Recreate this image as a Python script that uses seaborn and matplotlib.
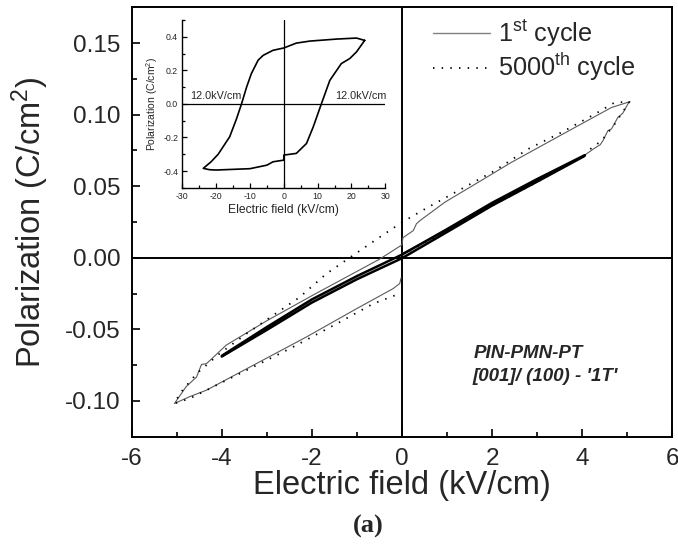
import numpy as np
import pandas as pd
import matplotlib
matplotlib.use("Agg")
import matplotlib.pyplot as plt
from matplotlib.ticker import MultipleLocator, FormatStrFormatter
from matplotlib.lines import Line2D
import seaborn as sns

# ---------------- data ----------------
# 1st cycle, outer loop (E in kV/cm, P in C/cm^2)
cyc1_E = [0.0, 1.0, 2.0, 3.0, 4.0, 4.28, 4.40, 4.46, 4.57, 4.65, 4.79, 4.90, 5.02, 5.05,
          4.65, 3.91, 3.17, 2.43, 1.69, 0.95, 0.40, 0.32, 0.25, 0.02, 0.0,
          -0.5, -1.0, -2.0, -3.0, -3.9, -4.34, -4.45, -4.56, -4.79, -5.05,
          -4.71, -4.34, -3.23, -2.12, -1.01, -0.20, -0.05, -0.02]
cyc1_P = [0.003, 0.0195, 0.037, 0.0535, 0.0705, 0.0767, 0.0790, 0.0818, 0.0888, 0.0900, 0.0980, 0.1010, 0.1078, 0.1090,
          0.1050, 0.0923, 0.0795, 0.0667, 0.0527, 0.0388, 0.0260, 0.0237, 0.0190, 0.0140, 0.0090,
          -0.0010, -0.0095, -0.0265, -0.0440, -0.0610, -0.0740, -0.0745, -0.0833, -0.0900, -0.1018,
          -0.0970, -0.0925, -0.0739, -0.0553, -0.0356, -0.0216, -0.0180, -0.0140]

# 5000th cycle, outer loop
cyc5000_E = [0.0, 1.0, 2.0, 3.0, 4.06, 4.13, 4.43, 4.72, 5.05,
             4.72, 4.28, 3.54, 2.80, 2.06, 1.32, 0.577, 0.0, -0.495, -1.09, -1.68, -2.27,
             -2.86, -3.45, -4.05, -4.56, -4.93, -5.05,
             -4.71, -3.60, -2.49, -1.38, -0.64, -0.05]
cyc5000_P = [0.002, 0.019, 0.0365, 0.053, 0.0715, 0.0748, 0.0818, 0.0934, 0.1090,
             0.1085, 0.1004, 0.0876, 0.0760, 0.0609, 0.0481, 0.0353, 0.0248, 0.0144, 0.0016, -0.0112, -0.0275,
             -0.0402, -0.0530, -0.0670, -0.0810, -0.0948, -0.1018,
             -0.0983, -0.0809, -0.0635, -0.0449, -0.0321, -0.0250]

# thick narrow loop (+/-4 kV/cm)
band_up_E = [4.05, 3.0, 2.0, 1.0, 0.0, -1.0, -2.0, -3.0, -4.0]
band_up_P = [0.0716, 0.0550, 0.0384, 0.0200, 0.0022, -0.0128, -0.0291, -0.0484, -0.0685]
band_lo_E = [-4.0, -3.0, -2.0, -1.0, 0.0, 1.0, 2.0, 3.0, 4.05]
band_lo_P = [-0.0690, -0.0504, -0.0313, -0.0150, -0.0003, 0.0180, 0.0365, 0.0532, 0.0711]

# inset: large-field hysteresis loop
ins_E = [23.9, 21.5, 15.6, 7.7, 3.7, 0.0, -3.2, -6.1, -7.6, -9.6, -11.0, -12.5, -14.0, -16.0, -19.4, -21.5, -23.8,
         -22.0, -20.0, -10.0, -5.0, -3.2, 0.0, 0.0, 3.7, 6.7, 8.7, 11.1, 13.6, 17.0, 19.5, 21.5, 23.9]
ins_P = [0.378, 0.392, 0.386, 0.374, 0.362, 0.333, 0.319, 0.289, 0.260, 0.180, 0.100, 0.000, -0.090, -0.196, -0.300, -0.345, -0.384,
         -0.392, -0.394, -0.386, -0.365, -0.345, -0.335, -0.305, -0.295, -0.236, -0.137, 0.000, 0.140, 0.240, 0.270, 0.310, 0.378]

legend_labels = ["1$^{\\rm st}$ cycle", "5000$^{\\rm th}$ cycle"]
x_ticks = [-6, -4, -2, 0, 2, 4, 6]
y_ticks = [-0.10, -0.05, 0.00, 0.05, 0.10, 0.15]
ins_x_ticks = [-30, -20, -10, 0, 10, 20, 30]
ins_y_ticks = [-0.4, -0.2, 0.0, 0.2, 0.4]

# ---------------- style ----------------
sns.set_theme(style="white")
plt.rcParams["font.family"] = ["Liberation Sans", "DejaVu Sans"]
plt.rcParams["mathtext.fontset"] = "custom"
plt.rcParams["mathtext.rm"] = "Liberation Sans"
plt.rcParams["mathtext.it"] = "Liberation Sans:italic"
plt.rcParams["mathtext.bf"] = "Liberation Sans:bold"
plt.rcParams["axes.unicode_minus"] = False

fig = plt.figure(figsize=(6.78, 5.46), dpi=100)
fig.patch.set_facecolor("white")
ax = fig.add_axes([0.1942, 0.2002, 0.7974, 0.7864])

gray = "#5a5a5a"
sns.lineplot(x=cyc1_E, y=cyc1_P, sort=False, estimator=None, ax=ax,
             color=gray, lw=0.8, zorder=3)
sns.lineplot(x=cyc5000_E, y=cyc5000_P, sort=False, estimator=None, ax=ax,
             color="black", lw=1.3, linestyle=(0, (0.8, 4.0)), zorder=3)
sns.lineplot(x=band_up_E + band_lo_E, y=band_up_P + band_lo_P, sort=False, estimator=None, ax=ax,
             color="black", lw=1.8, zorder=4)

ax.axhline(0, color="black", lw=1.4, zorder=2)
ax.axvline(0, color="black", lw=1.4, zorder=2)

ax.set_xlim(-6, 6)
ax.set_ylim(-0.125, 0.175)
ax.set_xticks(x_ticks)
ax.set_yticks(y_ticks)
ax.xaxis.set_minor_locator(MultipleLocator(1))
ax.yaxis.set_minor_locator(MultipleLocator(0.025))
ax.yaxis.set_major_formatter(FormatStrFormatter("%.2f"))
ax.xaxis.set_major_formatter(FormatStrFormatter("%d"))
ax.tick_params(which="both", direction="in", bottom=True, left=True, top=False, right=False, color="black")
ax.tick_params(which="major", length=6, width=1.2, labelsize=17.5, pad=8)
ax.tick_params(which="minor", length=3.5, width=1.2)
for s in ax.spines.values():
    s.set_linewidth(1.4)
    s.set_color("black")

ax.set_xlabel("Electric field (kV/cm)", fontsize=23.5, labelpad=0)
ax.set_ylabel("Polarization (C/cm$^2$)", fontsize=23.5, labelpad=10)

# legend
handles = [Line2D([], [], color="#808080", lw=1.0),
           Line2D([], [], color="black", lw=1.3, linestyle=(0, (0.8, 4.0)))]
ax.legend(handles, legend_labels, loc="upper left", bbox_to_anchor=(0.552, 0.98),
          frameon=False, fontsize=18.2, handlelength=2.25, handletextpad=0.35,
          labelspacing=0.08, borderpad=0.1, borderaxespad=0)

ax.text(1.59, -0.0667, "PIN-PMN-PT", fontsize=13.5, fontweight="bold", fontstyle="italic",
        ha="left", va="center")
ax.text(1.56, -0.083, "[001]/ (100) - '1T'", fontsize=13.5, fontweight="bold", fontstyle="italic",
        ha="left", va="center")

fig.text(368 / 678, 1 - 526 / 546, "(a)", fontsize=19, fontweight="bold",
         family="Liberation Serif", ha="center", va="center")

# ---------------- inset ----------------
ins = fig.add_axes([0.2689, 0.656, 0.2994, 0.3075])
ins.set_facecolor("white")
sns.lineplot(x=ins_E, y=ins_P, sort=False, estimator=None, ax=ins, color="black", lw=1.2, zorder=3)
ins.axhline(0, color="black", lw=0.9, zorder=2)
ins.axvline(0, color="black", lw=0.9, zorder=2)
ins.set_xlim(-30, 30)
ins.set_ylim(-0.5, 0.5)
ins.set_xticks(ins_x_ticks)
ins.set_yticks(ins_y_ticks)
ins.xaxis.set_minor_locator(MultipleLocator(5))
ins.yaxis.set_minor_locator(MultipleLocator(0.1))
ins.yaxis.set_major_formatter(FormatStrFormatter("%.1f"))
ins.spines["top"].set_visible(False)
ins.spines["right"].set_visible(False)
for s in ["left", "bottom"]:
    ins.spines[s].set_linewidth(1.0)
    ins.spines[s].set_color("black")
ins.tick_params(which="both", direction="in", bottom=True, left=True, top=False, right=False,
                color="black", width=0.9)
ins.tick_params(which="major", length=3.5, labelsize=6.3, pad=3)
ins.tick_params(which="minor", length=2)
ins.set_xlabel("Electric field (kV/cm)", fontsize=8.7, labelpad=2)
ins.set_ylabel("Polarization (C/cm$^2$)", fontsize=7.5, labelpad=2)
ins.text(-27.8, 0.032, "12.0kV/cm", fontsize=7.8, ha="left", va="baseline")
ins.text(15.1, 0.032, "12.0kV/cm", fontsize=7.8, ha="left", va="baseline", clip_on=False)

fig.savefig("out.png", dpi=100, facecolor="white")
